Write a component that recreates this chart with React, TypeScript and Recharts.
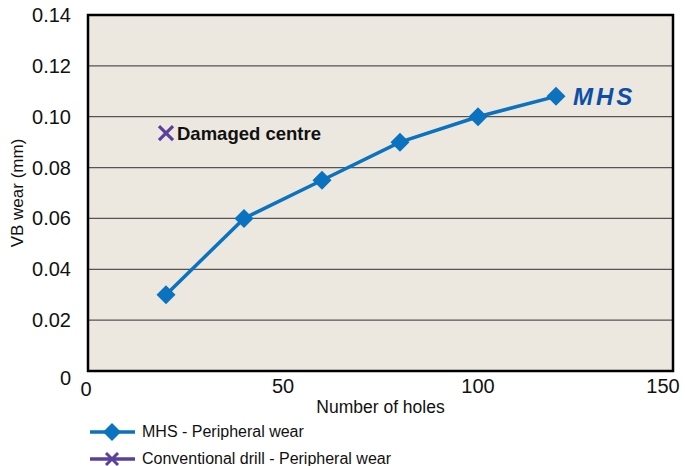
import {
  ComposedChart, Line, Scatter, XAxis, YAxis, CartesianGrid,
  ReferenceArea, ReferenceDot, Label,
} from 'recharts';

const holes = [20, 40, 60, 80, 100, 120];
const mhsWear = [0.03, 0.06, 0.075, 0.09, 0.1, 0.108];
const convHoles = [20];
const convWear = [0.0935];
const xTicks = [0, 50, 100, 150];
const yTicks = [0, 0.02, 0.04, 0.06, 0.08, 0.1, 0.12, 0.14];

const BLUE = '#0A72BE';
const PURPLE = '#5A3F9C';
const BG = '#ECE8DF';
const FONT = '"Liberation Sans", Arial, sans-serif';

const mhsData = holes.map((h, i) => ({ x: h, y: mhsWear[i] }));
const convData = convHoles.map((h, i) => ({ x: h, y: convWear[i] }));

function Diamond({ cx, cy }: any) {
  if (cx == null || cy == null) return null;
  const r = 9.5;
  return <polygon points={`${cx},${cy - r} ${cx + r},${cy} ${cx},${cy + r} ${cx - r},${cy}`} fill={BLUE} />;
}

function Cross({ cx, cy }: any) {
  if (cx == null || cy == null) return null;
  const r = 7;
  return (
    <g stroke={PURPLE} strokeWidth={3.2}>
      <line x1={cx - r} y1={cy - r} x2={cx + r} y2={cy + r} />
      <line x1={cx - r} y1={cy + r} x2={cx + r} y2={cy - r} />
    </g>
  );
}

function YTick({ x, y, payload }: any) {
  const v = payload.value;
  return (
    <text x={x - 9} y={v === 0 ? y + 7 : y} dy={7} textAnchor="end" fontSize={20} fill="#111" fontFamily={FONT}>
      {v === 0 ? '0' : v.toFixed(2)}
    </text>
  );
}

function XTick({ x, y, payload }: any) {
  const v = payload.value;
  // first label nudged down-left, last one pulled in so it stays on the page
  const dx = v === 0 ? -2 : v === 150 ? -10 : 0;
  return (
    <text x={x + dx} y={y + 14} dy={v === 0 ? 3 : 0} textAnchor="middle" fontSize={20} fill="#111" fontFamily={FONT}>
      {v}
    </text>
  );
}

export default function App() {
  return (
    <div style={{ position: 'absolute', left: 0, top: 0, width: 685, height: 466, background: '#fff', fontFamily: FONT }}>
      <ComposedChart width={685} height={466} margin={{ top: 15, right: 12, bottom: 55, left: 0 }}>
        <CartesianGrid vertical={false} stroke="#555" strokeWidth={1.3} fill={BG} />
        <XAxis
          type="number" dataKey="x" domain={[0, 150]} ticks={xTicks}
          axisLine={false} tickLine={false} height={40}
          tick={<XTick />}
        >
          <Label value="Number of holes" position="insideBottom" offset={-2} fontSize={17.5} fill="#111" fontFamily={FONT} />
        </XAxis>
        <YAxis
          type="number" dataKey="y" domain={[0, 0.14]} ticks={yTicks}
          axisLine={false} tickLine={false} width={88}
          tick={<YTick />}
        >
          <Label value="VB wear (mm)" angle={-90} position="insideLeft" offset={17} fontSize={17} fill="#111" fontFamily={FONT} style={{ textAnchor: 'middle' }} />
        </YAxis>
        <ReferenceArea x1={0} x2={150} y1={0} y2={0.14} fill="none" fillOpacity={0} stroke="#000" strokeWidth={2.5} />
        <Line
          data={mhsData} dataKey="y" stroke={BLUE} strokeWidth={3.5}
          dot={<Diamond />} activeDot={false} isAnimationActive={false}
        />
        <Scatter data={convData} dataKey="y" shape={<Cross />} isAnimationActive={false} />
        <ReferenceDot x={convHoles[0]} y={convWear[0]} r={0} fill="none" stroke="none">
          <Label value="Damaged centre" position="right" offset={11} fontSize={18.5} fontWeight={700} fill="#111" fontFamily={FONT} />
        </ReferenceDot>
        <ReferenceDot x={holes[5]} y={mhsWear[5]} r={0} fill="none" stroke="none">
          <Label value="MHS" position="right" offset={17} fontSize={24} fontWeight={900} fontStyle="italic" fill="#0B4FA8" fontFamily={FONT} letterSpacing={3} />
        </ReferenceDot>
      </ComposedChart>
      <div style={{ position: 'absolute', left: 88, top: 418, fontSize: 16, color: '#111', lineHeight: '27px' }}>
        <div style={{ display: 'flex', alignItems: 'center' }}>
          <svg width={50} height={24} style={{ marginRight: 4 }}>
            <line x1={2} y1={12} x2={47} y2={12} stroke={BLUE} strokeWidth={3.5} />
            <polygon points="24,3 33,12 24,21 15,12" fill={BLUE} />
          </svg>
          MHS - Peripheral wear
        </div>
        <div style={{ display: 'flex', alignItems: 'center' }}>
          <svg width={50} height={24} style={{ marginRight: 4 }}>
            <line x1={2} y1={12} x2={47} y2={12} stroke={PURPLE} strokeWidth={3.5} />
            <g stroke={PURPLE} strokeWidth={3}>
              <line x1={18} y1={6} x2={30} y2={18} />
              <line x1={18} y1={18} x2={30} y2={6} />
            </g>
          </svg>
          Conventional drill - Peripheral wear
        </div>
      </div>
    </div>
  );
}
